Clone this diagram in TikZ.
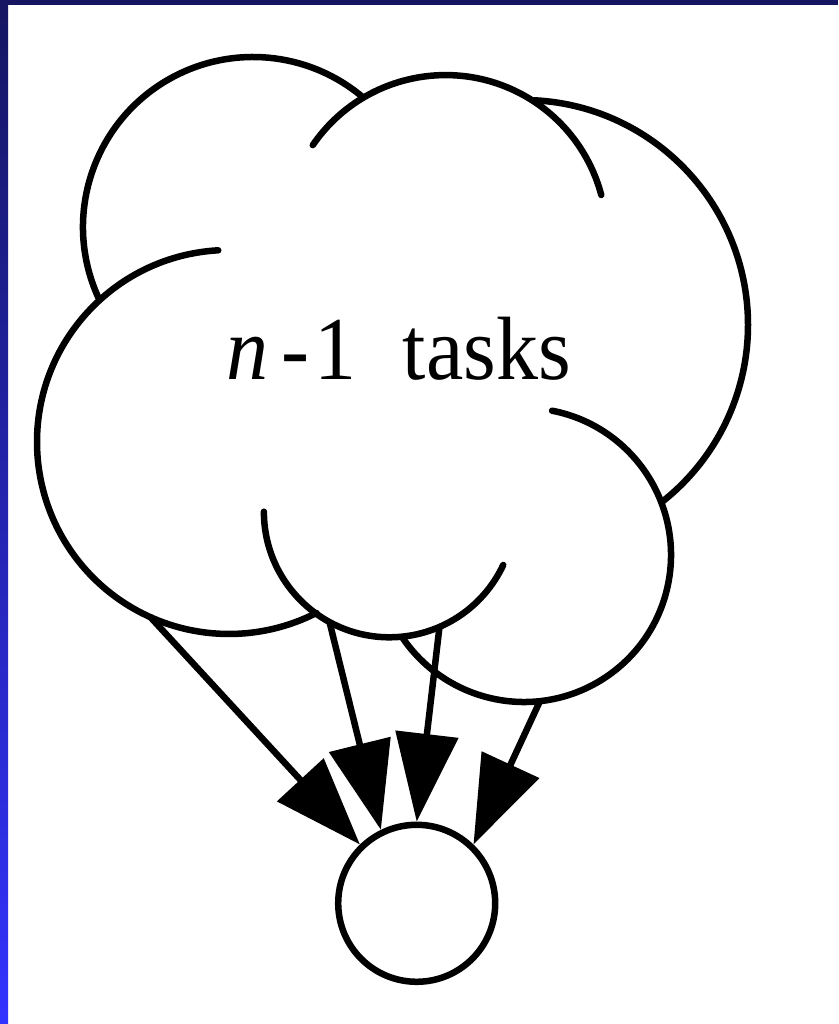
\documentclass[tikz,border=0pt]{standalone}
\usepackage{fontspec}
\setmainfont{Liberation Serif}
\usetikzlibrary{arrows.meta}
\definecolor{slidenavy}{RGB}{21,21,98}
\definecolor{slideblue}{RGB}{51,51,255}
\begin{document}
\begin{tikzpicture}[x=1pt,y=1pt,
  lobe/.style={line width=6.5pt, line cap=round},
  flow/.style={line width=6.5pt, -{Triangle[length=88pt,width=62pt]}},
  sinknode/.style={circle, draw, line width=6.5pt, minimum size=157pt, inner sep=0pt},
  tasklabel/.style={anchor=base east, inner sep=0pt, font=\fontsize{84}{84}\selectfont},
]
\useasboundingbox (0,0) rectangle (838,1024);
% slide background and frame edges
\fill[white] (0,0) rectangle (838,1024);
\shade[top color=slidenavy, bottom color=slideblue] (0,0) rectangle (8,1024);
\fill[slidenavy] (0,1019) rectangle (838,1024);

% centres of the cloud lobes
\coordinate (c1) at (253,797);
\coordinate (c2) at (445.6,787.9);
\coordinate (c3) at (523,699);
\coordinate (c4) at (229,582);
\coordinate (c5) at (389.5,512.3);
\coordinate (c6) at (524,469);

% cloud outline, one arc per lobe
\draw[lobe] (c1) ++(205:170) arc[start angle=205, end angle=50, radius=170];
\draw[lobe] (c2) ++(145.6:161) arc[start angle=145.6, end angle=14.8, radius=161];
\draw[lobe] (c3) ++(87.1:225) arc[start angle=87.1, end angle=-51.5, radius=225];
\draw[lobe] (c4) ++(93.2:192) arc[start angle=93.2, end angle=297.1, radius=192];
\draw[lobe] (c5) ++(180:125.6) arc[start angle=180, end angle=334.9, radius=125.6];
\draw[lobe] (c6) ++(79:147) arc[start angle=79, end angle=-145.4, radius=147];

\node[tasklabel] (tasks) at (571,644)
  {\scalebox{1}[1.07]{\textit{n}\hspace{0.15em}-\hspace{0.06em}1\hspace{0.55em}tasks}};

% the single task fed by the cloud
\node[sinknode] (sink) at (416.7,120.7) {};

% points where the dependencies leave the cloud
\coordinate (ta) at (150,407.3);
\coordinate (tb) at (329.5,402);
\coordinate (tc) at (439.5,397.3);
\coordinate (td) at (540,323);

\draw[flow] (ta) -- (sink.134.2);
\draw[flow] (tb) -- (sink.116.2);
\draw[flow] (tc) -- (sink.90);
\draw[flow] (td) -- (sink.46.3);
\end{tikzpicture}
\end{document}
